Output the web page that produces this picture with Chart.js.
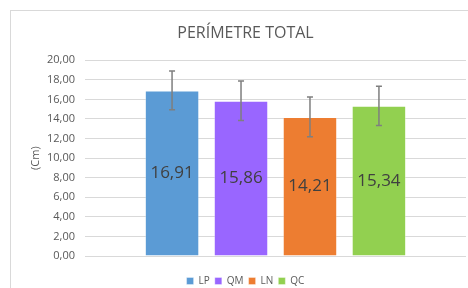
<!DOCTYPE html>
<html>
<head>
<meta charset="utf-8">
<script src="https://cdn.jsdelivr.net/npm/chart.js@4"></script>
<style>
    html, body { margin: 0; padding: 0; background: #fff; overflow: hidden; }
    #box { position: absolute; left: 10px; top: 10px; width: 469px; height: 285px; border: 1px solid #d9d9d9; }
</style>
</head>
<body>
<div id="box"><canvas id="chart" width="469" height="285"></canvas></div>
<script>
const series = ['LP', 'QM', 'LN', 'QC'];
const values = [16.91, 15.86, 14.21, 15.34];
const errors = [1.98, 2.02, 2.02, 2.01];
const colors = ['#5b9bd5', '#9966ff', '#ed7d31', '#92d050'];
const yTicks = [0, 2, 4, 6, 8, 10, 12, 14, 16, 18, 20];

const fmt = v => v.toFixed(2).replace('.', ',');

// error bars drawn from the y scale
const errorBars = {
    id: 'errorBars',
    afterDatasetsDraw(chart) {
        const ctx = chart.ctx;
        const y = chart.scales.y;
        ctx.save();
        ctx.strokeStyle = '#7f7f7f';
        ctx.lineWidth = 1.5;
        chart.data.datasets.forEach((ds, i) => {
            const bar = chart.getDatasetMeta(i).data[0];
            const top = y.getPixelForValue(values[i] + errors[i]);
            const bot = y.getPixelForValue(values[i] - errors[i]);
            ctx.beginPath();
            ctx.moveTo(bar.x, top); ctx.lineTo(bar.x, bot);
            ctx.moveTo(bar.x - 3, top); ctx.lineTo(bar.x + 3, top);
            ctx.moveTo(bar.x - 3, bot); ctx.lineTo(bar.x + 3, bot);
            ctx.stroke();
        });
        ctx.restore();
    }
};

// value labels in the middle of each bar
const valueLabels = {
    id: 'valueLabels',
    afterDatasetsDraw(chart) {
        const ctx = chart.ctx;
        ctx.save();
        ctx.font = '17px "Open Sans"';
        ctx.fillStyle = '#404040';
        ctx.textAlign = 'center';
        ctx.textBaseline = 'middle';
        chart.data.datasets.forEach((ds, i) => {
            const bar = chart.getDatasetMeta(i).data[0];
            ctx.fillText(fmt(values[i]), bar.x, (bar.y + bar.base) / 2);
        });
        ctx.restore();
    }
};

new Chart(document.getElementById('chart'), {
    type: 'bar',
    data: {
        labels: [''],
        datasets: series.map((s, i) => ({
            label: s,
            data: [values[i]],
            yAxisID: 'y',
            backgroundColor: colors[i],
            borderColor: 'rgba(255,255,255,0.35)',
            borderWidth: 1,
            categoryPercentage: 0.724,
            barPercentage: 0.79
        }))
    },
    options: {
        responsive: false,
        animation: false,
        layout: { padding: 0 },
        plugins: {
            title: {
                display: true,
                text: 'PERÍMETRE TOTAL',
                color: '#595959',
                font: { family: 'Open Sans', size: 16, weight: 'normal' },
                padding: { top: 13, bottom: 17 }
            },
            legend: {
                position: 'bottom',
                labels: {
                    color: '#595959',
                    font: { family: 'Open Sans', size: 10 },
                    boxWidth: 7,
                    boxHeight: 7,
                    padding: 5
                }
            },
            tooltip: { enabled: false }
        },
        scales: {
            x: {
                display: true,
                grid: { display: false },
                border: { display: false },
                ticks: { display: false },
                afterFit: axis => { axis.height = 15; }
            },
            // empty right axis keeps the plot off the right edge
            yRight: {
                position: 'right',
                display: true,
                grid: { display: false },
                border: { display: false },
                ticks: { display: false },
                afterFit: axis => { axis.width = 14; }
            },
            y: {
                min: 0,
                max: 20,
                afterBuildTicks: axis => { axis.ticks = yTicks.map(v => ({ value: v })); },
                afterFit: axis => { axis.width = 74; },
                border: { display: false },
                grid: { color: '#d9d9d9', drawTicks: false },
                ticks: {
                    color: '#595959',
                    font: { family: 'Open Sans', size: 11 },
                    padding: 10,
                    callback: v => fmt(v)
                },
                title: {
                    display: true,
                    text: '(Cm)',
                    color: '#595959',
                    font: { family: 'Open Sans', size: 11 },
                    padding: { top: 18, bottom: 0 }
                }
            }
        }
    },
    plugins: [errorBars, valueLabels]
});
</script>
</body>
</html>
